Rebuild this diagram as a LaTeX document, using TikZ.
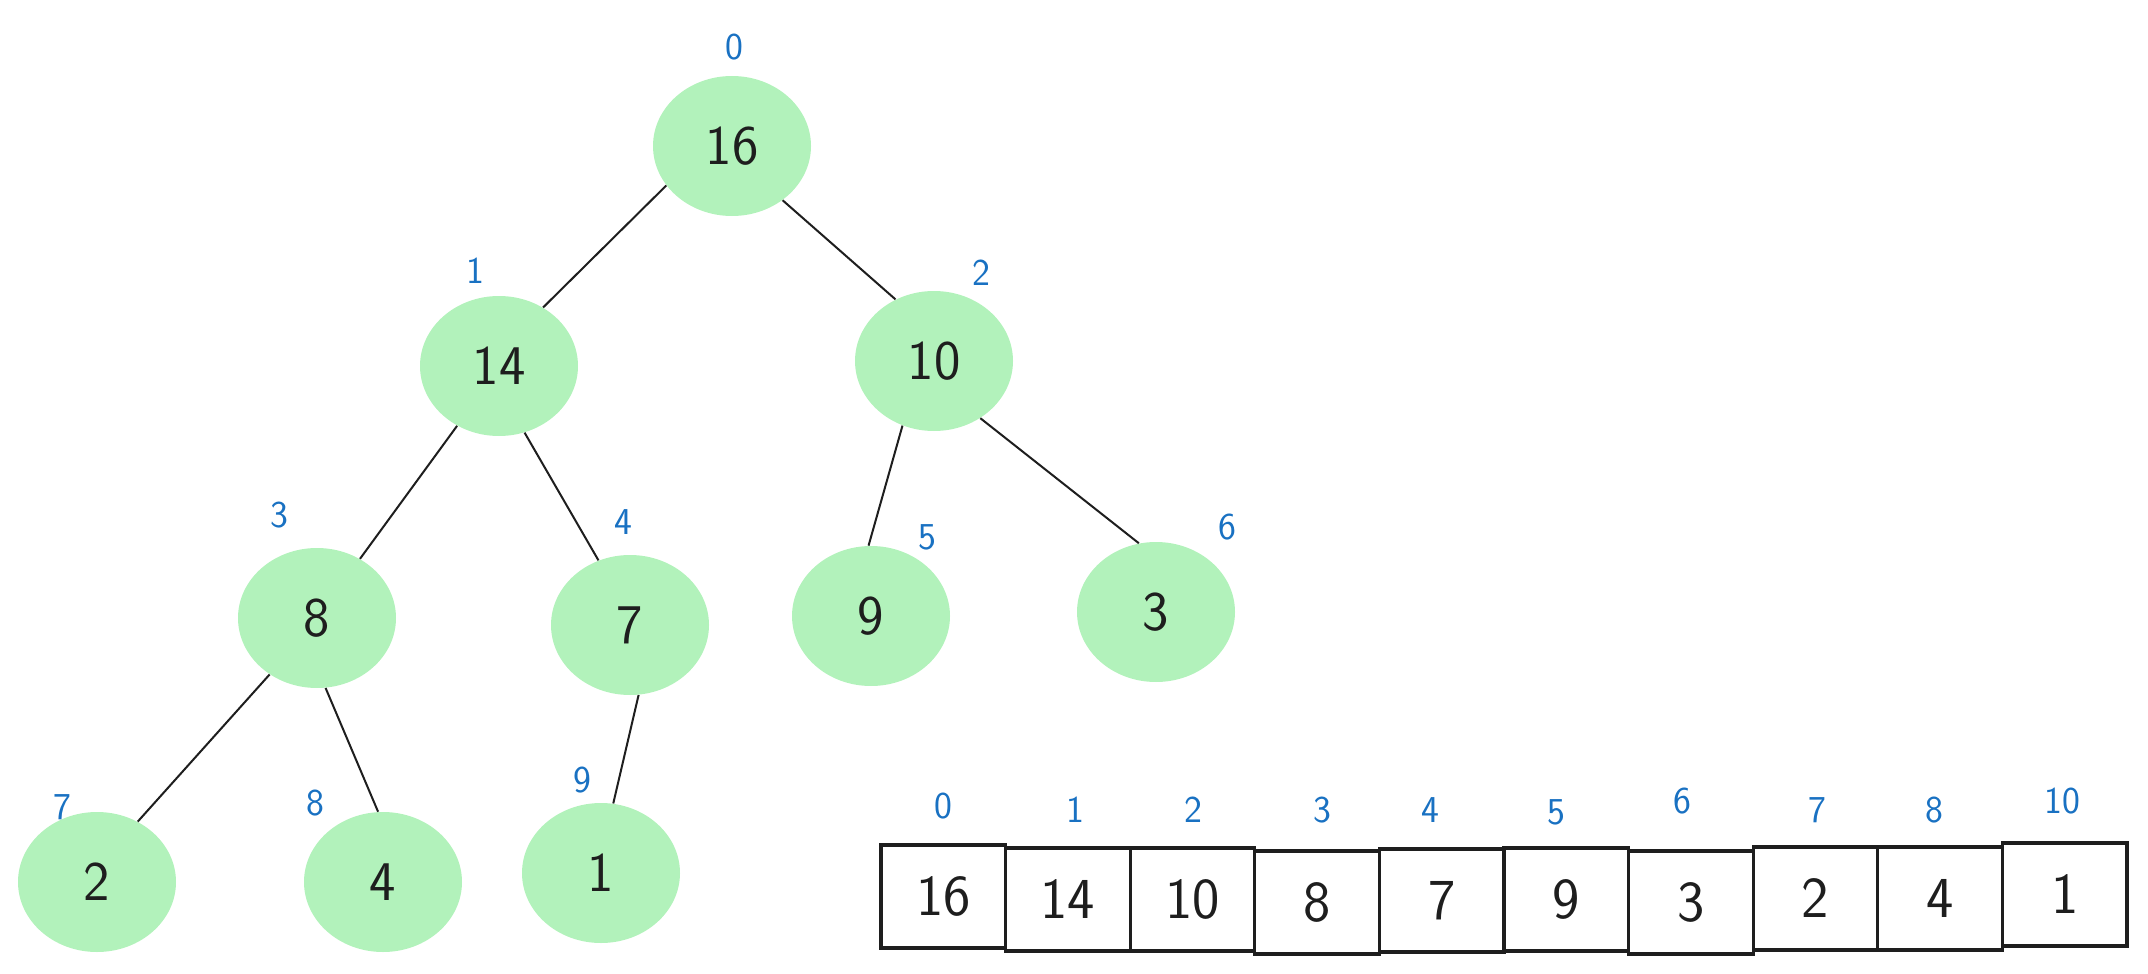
\documentclass[tikz,border=0pt]{standalone}
\usetikzlibrary{shapes.geometric}
\definecolor{mintF}{HTML}{B2F2BB}
\definecolor{blueI}{HTML}{1971C2}
\definecolor{inkD}{HTML}{1E1E1E}

\begin{document}
\begin{tikzpicture}[x=0.5pt,y=-0.5pt,
  heapnode/.style={ellipse,fill=mintF,minimum width=79pt,minimum height=70pt,inner sep=0pt,
    text=inkD,font=\sffamily\fontsize{28}{32}\selectfont},
  cell/.style={draw=inkD,line width=1.6pt,minimum width=62.3pt,minimum height=51.5pt,inner sep=0pt,
    text=inkD,font=\sffamily\fontsize{29}{33}\selectfont},
  idx/.style={text=blueI,inner sep=0pt,font=\sffamily\fontsize{19}{22}\selectfont},
  link/.style={inkD,line width=1pt}]
  \useasboundingbox (0,0) rectangle (2148,974);

  % heap as a tree
  \node[heapnode] (h0) at (732,146) {16};
  \node[heapnode] (h1) at (499,366) {14};
  \node[heapnode] (h2) at (934,361) {10};
  \node[heapnode] (h3) at (317,618) {8};
  \node[heapnode] (h4) at (630,625) {7};
  \node[heapnode] (h5) at (871,616) {9};
  \node[heapnode] (h6) at (1156,612) {3};
  \node[heapnode] (h7) at (97,882) {2};
  \node[heapnode] (h8) at (383,882) {4};
  \node[heapnode] (h9) at (601,873) {1};

  \draw[link] (h0.211) -- (h1.53);
  \draw[link] (h0.313) -- (h2.122);
  \draw[link] (h1.235) -- (h3.54);
  \draw[link] (h1.291) -- (h4.116);
  \draw[link] (h2.244) -- (h5.92);
  \draw[link] (h2.309) -- (h6.104);
  \draw[link] (h3.230) -- (h7.56);
  \draw[link] (h3.277) -- (h8.94);
  \draw[link] (h4.277) -- (h9.80);

  \foreach \xc/\yc [count=\i from 0] in {734/47, 475/271, 981/273, 279/515, 623/522,
      927/537, 1227/527, 62/807, 315/803, 582/780}
    \node[idx] (t\i) at (\xc,\yc) {\i};

  % heap as an array
  \foreach \v/\yc [count=\i from 0] in {16/896.5, 14/899.5, 10/899.5, 8/902.5, 7/900.5,
      9/899.5, 3/902.5, 2/898.5, 4/898.5, 1/894.5}
    \node[cell] (a\i) at ({943.3+124.6*\i},\yc) {\v};

  \foreach \t/\xc/\yc [count=\i from 0] in {0/943/806, 1/1075/810, 2/1193/810, 3/1322/810,
      4/1430/810, 5/1556/812, 6/1682/801, 7/1817/810, 8/1934/810, 10/2062/801}
    \node[idx] (ai\i) at (\xc,\yc) {\t};
\end{tikzpicture}
\end{document}
